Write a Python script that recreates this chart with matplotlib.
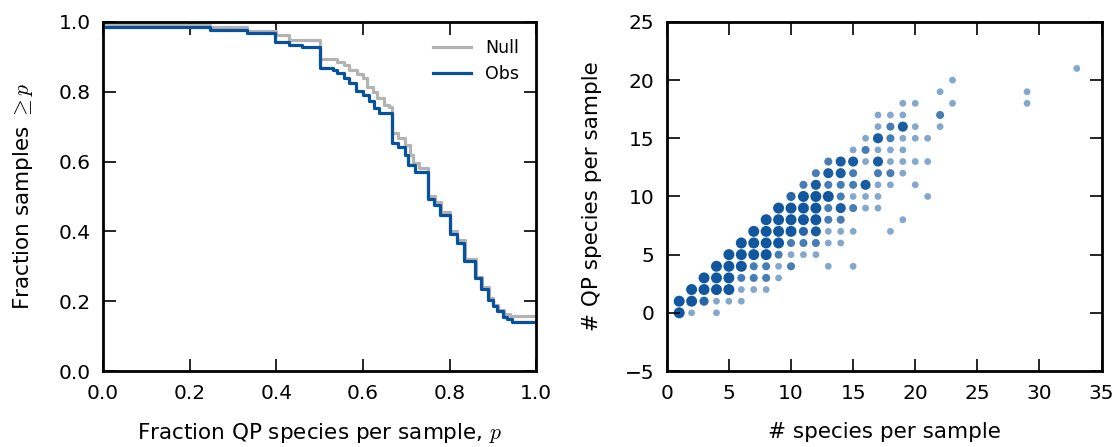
import matplotlib
matplotlib.use('Agg')
import matplotlib.pyplot as plt

plt.rcParams['mathtext.fontset'] = 'cm'
plt.rcParams['font.size'] = 14

# left panel: survival curves, step breakpoints (p) and values
obs_p = [0.0, 0.248, 0.333, 0.398, 0.43, 0.46, 0.5, 0.53, 0.54, 0.555, 0.567, 0.583, 0.6, 0.615, 0.626,
         0.638, 0.667, 0.68, 0.696, 0.705, 0.72, 0.75, 0.764, 0.778, 0.8, 0.818, 0.833, 0.859, 0.873,
         0.889, 0.899, 0.91, 0.922, 0.933, 0.943, 1.0]
obs_v = [0.984, 0.978, 0.969, 0.943, 0.934, 0.927, 0.867, 0.863, 0.853, 0.839, 0.825, 0.801, 0.792, 0.773,
         0.754, 0.74, 0.654, 0.643, 0.619, 0.59, 0.571, 0.493, 0.476, 0.447, 0.392, 0.368, 0.315, 0.265,
         0.234, 0.204, 0.186, 0.172, 0.156, 0.148, 0.141, 0.141]
null_p = [0.0, 0.248, 0.333, 0.4, 0.43, 0.5, 0.54, 0.555, 0.567, 0.587, 0.6, 0.61, 0.622, 0.633, 0.649,
          0.66, 0.667, 0.68, 0.697, 0.708, 0.715, 0.73, 0.75, 0.766, 0.78, 0.8, 0.818, 0.835, 0.86,
          0.875, 0.89, 0.9, 0.912, 0.925, 0.94, 1.0]
null_v = [0.991, 0.986, 0.973, 0.962, 0.948, 0.893, 0.886, 0.876, 0.862, 0.852, 0.838, 0.814, 0.8, 0.781,
          0.762, 0.755, 0.681, 0.667, 0.648, 0.619, 0.595, 0.581, 0.5, 0.485, 0.455, 0.4, 0.375, 0.32,
          0.27, 0.24, 0.21, 0.19, 0.176, 0.162, 0.157, 0.157]

# right panel: (total species, QP species, number of samples at that point)
n_species = [1, 2, 4, 1, 2, 3, 4, 5, 6, 2, 3, 4, 5, 6, 7, 8, 3, 4, 5, 6, 7, 8, 9,
             4, 5, 6, 7, 8, 9, 10, 13, 15, 5, 6, 7, 8, 9, 10, 11, 12,
             6, 7, 8, 9, 10, 11, 12, 13, 14, 7, 8, 9, 10, 11, 12, 13, 14, 15, 18,
             8, 9, 10, 11, 12, 13, 14, 19, 9, 10, 11, 12, 13, 14, 15, 16, 17,
             10, 11, 12, 13, 14, 15, 16, 17, 21, 11, 12, 13, 14, 15, 16, 17, 18, 20,
             12, 13, 14, 15, 17, 18, 19, 13, 14, 15, 16, 17, 18, 19, 20, 21,
             15, 16, 17, 18, 19, 16, 17, 18, 19, 20, 21, 17, 18, 19, 20, 22,
             17, 18, 19, 22, 19, 20, 23, 29, 22, 29, 23, 33]
n_qp = [0, 0, 0, 1, 1, 1, 1, 1, 1, 2, 2, 2, 2, 2, 2, 2, 3, 3, 3, 3, 3, 3, 3,
        4, 4, 4, 4, 4, 4, 4, 4, 4, 5, 5, 5, 5, 5, 5, 5, 5,
        6, 6, 6, 6, 6, 6, 6, 6, 6, 7, 7, 7, 7, 7, 7, 7, 7, 7, 7,
        8, 8, 8, 8, 8, 8, 8, 8, 9, 9, 9, 9, 9, 9, 9, 9, 9,
        10, 10, 10, 10, 10, 10, 10, 10, 10, 11, 11, 11, 11, 11, 11, 11, 11, 11,
        12, 12, 12, 12, 12, 12, 12, 13, 13, 13, 13, 13, 13, 13, 13, 13,
        14, 14, 14, 14, 14, 15, 15, 15, 15, 15, 15, 16, 16, 16, 16, 16,
        17, 17, 17, 17, 18, 18, 18, 18, 19, 19, 20, 21]
n_samples = [5, 1, 1, 5, 5, 3, 1, 1, 1, 5, 5, 5, 5, 1, 1, 1, 5, 5, 5, 2, 2, 2, 1,
             5, 5, 5, 2, 2, 1, 2, 1, 1, 5, 5, 5, 5, 2, 1, 1, 1,
             5, 5, 5, 5, 2, 2, 2, 1, 1, 5, 5, 5, 5, 3, 4, 1, 1, 1, 1,
             5, 5, 5, 5, 5, 2, 2, 1, 5, 5, 5, 5, 2, 4, 2, 1, 1,
             3, 5, 5, 5, 2, 1, 1, 1, 1, 2, 4, 2, 2, 2, 4, 1, 1, 1,
             2, 4, 4, 2, 2, 2, 1, 2, 4, 4, 1, 4, 1, 1, 1, 1,
             1, 2, 1, 1, 1, 1, 4, 2, 1, 1, 1, 1, 2, 4, 1, 1,
             1, 1, 1, 2, 1, 1, 1, 1, 1, 1, 1, 1]

blue = '#08519c'
grey = '#b3b3b3'

fig = plt.figure(figsize=(11.15, 4.47), dpi=100)

ax1 = fig.add_axes([0.0924, 0.17, 0.3886, 0.781])
ax1.step(null_p, null_v, where='post', color=grey, lw=2.3, label='Null')
ax1.step(obs_p, obs_v, where='post', color=blue, lw=2.3, label='Obs')
ax1.set_xlim(0, 1)
ax1.set_ylim(0, 1)
ax1.set_xticks([0, 0.2, 0.4, 0.6, 0.8, 1.0])
ax1.set_yticks([0, 0.2, 0.4, 0.6, 0.8, 1.0])
ax1.set_xlabel('Fraction QP species per sample, $p$', fontsize=15.5, labelpad=13)
ax1.set_ylabel(r'Fraction samples $\geq p$', fontsize=15.5, labelpad=17)
ax1.legend(loc='upper right', frameon=False, fontsize=12.5, handlelength=2.2,
           labelspacing=0.45, borderaxespad=0.6)

# darker and wider marks where several samples share a point
alphas = [1 - 0.5 ** n for n in n_samples]
sizes = [24 * (1 + 0.4 * (n - 1)) for n in n_samples]
colors = [(0.031, 0.318, 0.612, a) for a in alphas]

ax2 = fig.add_axes([0.598, 0.17, 0.39, 0.781])
ax2.scatter(n_species, n_qp, s=sizes, c=colors, edgecolors='none')
ax2.set_xlim(0, 35)
ax2.set_ylim(-5, 25)
ax2.set_xticks(range(0, 36, 5))
ax2.set_yticks(range(-5, 26, 5))
ax2.set_xlabel('# species per sample', fontsize=15.5, labelpad=14)
ax2.set_ylabel('# QP species per sample', fontsize=15.5, labelpad=16)

for ax in [ax1, ax2]:
    for s in ax.spines.values():
        s.set_linewidth(2)
    ax.tick_params(direction='in', top=True, right=True, length=9, width=1.2, pad=9, labelsize=14.5)

plt.savefig('out.png', dpi=100)
